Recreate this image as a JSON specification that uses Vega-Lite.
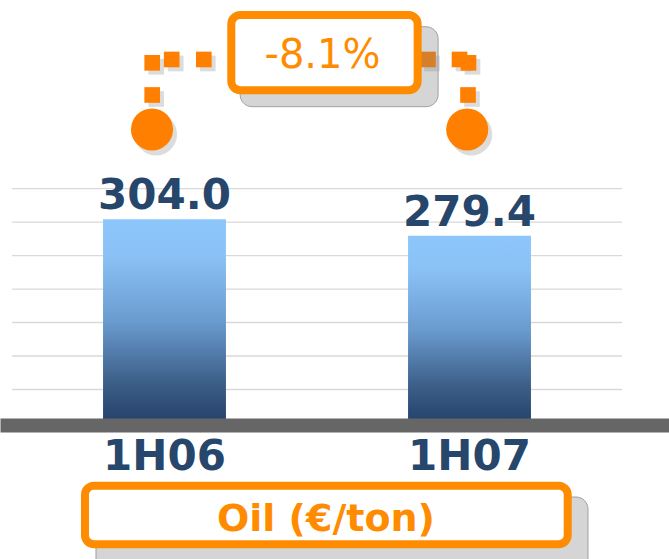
{
  "$schema": "https://vega.github.io/schema/vega-lite/v6.json",
  "width": 669,
  "height": 422,
  "autosize": "none",
  "padding": {"top": 1, "left": 0, "right": 0, "bottom": 136},
  "background": "white",
  "config": {
    "view": {"stroke": null},
    "font": "DejaVu Sans"
  },
  "datasets": {
    "oil": [
      {"period": "1H06", "price": 304.0},
      {"period": "1H07", "price": 279.4}
    ],
    "grid": [{"g": 50}, {"g": 100}, {"g": 150}, {"g": 200}, {"g": 250}, {"g": 300}, {"g": 350}],
    "squares": [
      {"u": 0.9597, "v": 537.7},
      {"u": 1.0236, "v": 542.7},
      {"u": 1.1289, "v": 542.7},
      {"u": 0.9597, "v": 489.7},
      {"u": 1.8639, "v": 542.7},
      {"u": 1.9672, "v": 542.7},
      {"u": 1.9967, "v": 537.7},
      {"u": 1.9951, "v": 489.7}
    ],
    "circles": [
      {"u": 0.959, "v": 438.2},
      {"u": 1.9925, "v": 438.2}
    ],
    "boxes": [
      {"box": "change", "u1": 1.219, "u2": 1.830, "v1": 609.1, "v2": 496.7, "su1": 1.248, "su2": 1.897, "sv1": 591.6, "sv2": 472.2},
      {"box": "unit", "u1": 0.7393, "u2": 2.322, "v1": -93.6, "v2": -181.1, "su1": 0.7754, "su2": 2.3885, "sv1": -110.5, "sv2": -226.9}
    ],
    "changeText": [{"u": 1.518, "v": 530.4, "label": "-8.1%"}],
    "unitText": [{"u": 1.5295, "v": -160.8, "label": "Oil (€/ton)"}]
  },
  "resolve": {"scale": {"x": "independent"}},
  "layer": [
    {
      "layer": [
        {
          "data": {"name": "grid"},
          "mark": {"type": "rule", "color": "#d9d9d9", "strokeWidth": 1.3},
          "encoding": {
            "y": {"field": "g", "type": "quantitative", "scale": {"domain": [0, 630], "nice": false}, "axis": null},
            "x": {"datum": "1H06", "type": "nominal", "bandPosition": 0, "scale": {"domain": ["1H06", "1H07"], "paddingInner": 0, "paddingOuter": 0.0967, "align": 0.2034}},
            "x2": {"datum": "1H07", "bandPosition": 1}
          }
        },
        {
          "data": {"name": "oil"},
          "mark": {
            "type": "bar",
            "width": {"band": 0.403},
            "color": {
              "gradient": "linear",
              "x1": 0, "y1": 0, "x2": 0, "y2": 1,
              "stops": [
                {"offset": 0, "color": "#8dc6fb"},
                {"offset": 0.18, "color": "#8ac2f6"},
                {"offset": 0.5, "color": "#6a9bcf"},
                {"offset": 0.8, "color": "#3c5f88"},
                {"offset": 1, "color": "#24416a"}
              ]
            }
          },
          "encoding": {
            "x": {
              "field": "period", "type": "nominal",
              "scale": {"domain": ["1H06", "1H07"], "paddingInner": 0, "paddingOuter": 0.0967, "align": 0.2034},
              "axis": {
                "title": null,
                "ticks": false,
                "tickSize": 0,
                "domainColor": "#666666",
                "domainWidth": 14,
                "domainCap": "butt",
                "offset": 2,
                "labelFont": "DejaVu Sans",
                "labelFontSize": 42,
                "labelFontWeight": "bold",
                "labelColor": "#27466b",
                "labelBaseline": "alphabetic",
                "labelAlign": "center",
                "labelPadding": 44,
                "labelAngle": 0,
                "labelOverlap": false,
                "grid": false,
                "zindex": 1
              }
            },
            "y": {"field": "price", "type": "quantitative", "scale": {"domain": [0, 630], "nice": false}, "axis": null}
          }
        },
        {
          "data": {"name": "oil"},
          "mark": {"type": "text", "font": "DejaVu Sans", "fontSize": 42, "fontWeight": "bold", "color": "#27466b", "baseline": "alphabetic", "dy": -10},
          "encoding": {
            "x": {"field": "period", "type": "nominal", "scale": {"domain": ["1H06", "1H07"], "paddingInner": 0, "paddingOuter": 0.0967, "align": 0.2034}},
            "y": {"field": "price", "type": "quantitative", "scale": {"domain": [0, 630], "nice": false}, "axis": null},
            "text": {"field": "price", "type": "quantitative", "format": ".1f"}
          }
        }
      ]
    },
    {
      "layer": [
        {
          "data": {"name": "squares"},
          "mark": {"type": "point", "shape": "square", "filled": true, "color": "#808080", "opacity": 0.28, "size": 245, "xOffset": 4, "yOffset": 4},
          "encoding": {
            "x": {"field": "u", "type": "quantitative", "scale": {"domain": [0.46066, 2.6541], "nice": false, "zero": false}, "axis": null},
            "y": {"field": "v", "type": "quantitative", "scale": {"domain": [0, 630], "nice": false}, "axis": null}
          }
        },
        {
          "data": {"name": "squares"},
          "mark": {"type": "point", "shape": "square", "filled": true, "color": "#ff7f00", "opacity": 1, "size": 245},
          "encoding": {
            "x": {"field": "u", "type": "quantitative", "scale": {"domain": [0.46066, 2.6541], "nice": false, "zero": false}, "axis": null},
            "y": {"field": "v", "type": "quantitative", "scale": {"domain": [0, 630], "nice": false}, "axis": null}
          }
        },
        {
          "data": {"name": "circles"},
          "mark": {"type": "point", "shape": "circle", "filled": true, "color": "#808080", "opacity": 0.28, "size": 1772, "xOffset": 4, "yOffset": 5},
          "encoding": {
            "x": {"field": "u", "type": "quantitative", "scale": {"domain": [0.46066, 2.6541], "nice": false, "zero": false}, "axis": null},
            "y": {"field": "v", "type": "quantitative", "scale": {"domain": [0, 630], "nice": false}, "axis": null}
          }
        },
        {
          "data": {"name": "circles"},
          "mark": {"type": "point", "shape": "circle", "filled": true, "color": "#ff7f00", "opacity": 1, "size": 1772},
          "encoding": {
            "x": {"field": "u", "type": "quantitative", "scale": {"domain": [0.46066, 2.6541], "nice": false, "zero": false}, "axis": null},
            "y": {"field": "v", "type": "quantitative", "scale": {"domain": [0, 630], "nice": false}, "axis": null}
          }
        },
        {
          "data": {"name": "boxes"},
          "mark": {"type": "rect", "fill": "#808080", "fillOpacity": 0.33, "stroke": "#a0a0a0", "strokeWidth": 1, "cornerRadius": 12},
          "encoding": {
            "x": {"field": "su1", "type": "quantitative", "scale": {"domain": [0.46066, 2.6541], "nice": false, "zero": false}, "axis": null},
            "x2": {"field": "su2"},
            "y": {"field": "sv1", "type": "quantitative", "scale": {"domain": [0, 630], "nice": false}, "axis": null},
            "y2": {"field": "sv2"}
          }
        },
        {
          "data": {"name": "boxes"},
          "mark": {"type": "rect", "fill": "white", "stroke": "#ff8c00", "strokeWidth": 8, "cornerRadius": 9},
          "encoding": {
            "x": {"field": "u1", "type": "quantitative", "scale": {"domain": [0.46066, 2.6541], "nice": false, "zero": false}, "axis": null},
            "x2": {"field": "u2"},
            "y": {"field": "v1", "type": "quantitative", "scale": {"domain": [0, 630], "nice": false}, "axis": null},
            "y2": {"field": "v2"}
          }
        },
        {
          "data": {"name": "changeText"},
          "mark": {"type": "text", "font": "DejaVu Sans", "fontSize": 40, "color": "#ff8c00", "baseline": "alphabetic", "align": "center"},
          "encoding": {
            "x": {"field": "u", "type": "quantitative", "scale": {"domain": [0.46066, 2.6541], "nice": false, "zero": false}, "axis": null},
            "y": {"field": "v", "type": "quantitative", "scale": {"domain": [0, 630], "nice": false}, "axis": null},
            "text": {"field": "label"}
          }
        },
        {
          "data": {"name": "unitText"},
          "mark": {"type": "text", "font": "DejaVu Sans", "fontSize": 38, "fontWeight": "bold", "color": "#ff8c00", "baseline": "alphabetic", "align": "center"},
          "encoding": {
            "x": {"field": "u", "type": "quantitative", "scale": {"domain": [0.46066, 2.6541], "nice": false, "zero": false}, "axis": null},
            "y": {"field": "v", "type": "quantitative", "scale": {"domain": [0, 630], "nice": false}, "axis": null},
            "text": {"field": "label"}
          }
        }
      ]
    }
  ]
}
